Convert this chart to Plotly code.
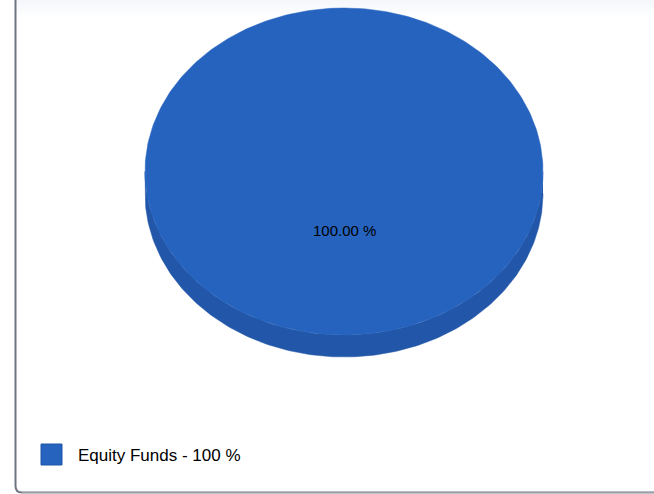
import numpy as np
import plotly.graph_objects as go

# ---- data ----
categories = ["Equity Funds"]
values = [100.0]
colors_top = ["#2563BF"]
colors_side = ["#2256A8"]

W, H = 654, 494
cx, cy, rx, ry, depth = 344, 171.5, 199, 163.5, 22

total = sum(values)
fig = go.Figure()

start = -np.pi / 2  # 12 o'clock, clockwise in screen coords (y down)
slices = []
for cat, v, ct, cs in zip(categories, values, colors_top, colors_side):
    sweep = 2 * np.pi * v / total
    slices.append((cat, v, start, start + sweep, ct, cs))
    start += sweep

# side (extrusion), visible on the lower half only
for cat, v, a0, a1, ct, cs in slices:
    s0, s1 = (0.0, np.pi) if v >= total else (max(a0, 0), min(a1, np.pi))
    if s1 > s0:
        t = np.linspace(s0, s1, 200)
        xs = np.concatenate([cx + rx * np.cos(t), cx + rx * np.cos(t[::-1])])
        ys = np.concatenate([cy + ry * np.sin(t), cy + depth + ry * np.sin(t[::-1])])
        fig.add_trace(go.Scatter(x=xs, y=ys, fill="toself", fillcolor=cs, mode="lines",
                                 line=dict(color=cs, width=0.5), hoverinfo="skip", showlegend=False))

# top faces and labels
for cat, v, a0, a1, ct, cs in slices:
    t = np.linspace(a0, a1, 400)
    xs = cx + rx * np.cos(t)
    ys = cy + ry * np.sin(t)
    if v < total:
        xs = np.concatenate([[cx], xs, [cx]])
        ys = np.concatenate([[cy], ys, [cy]])
    fig.add_trace(go.Scatter(x=xs, y=ys, fill="toself", fillcolor=ct, mode="lines",
                             line=dict(color=ct, width=0.5), hoverinfo="skip", showlegend=False))
    mid = (a0 + a1) / 2
    fig.add_annotation(x=cx + 0.36 * rx * np.cos(mid), y=cy + 0.36 * ry * np.sin(mid),
                       text=f"{v / total * 100:.2f} %", showarrow=False,
                       font=dict(family="Liberation Sans", size=15, color="#000000"))

# legend
for i, (cat, v, ct) in enumerate(zip(categories, values, colors_top)):
    y0 = 444 + i * 26
    fig.add_shape(type="rect", xref="x", yref="y", x0=41, x1=62, y0=y0, y1=y0 + 21,
                  fillcolor=ct, line=dict(color="#1E56A8", width=1))
    fig.add_annotation(x=76, y=y0 + 11.5, xanchor="left", yanchor="middle",
                       text=f"{cat} - {v:g} %", showarrow=False,
                       font=dict(family="Liberation Sans", size=17, color="#000000"))

# faint top gradient
for k in range(8):
    fig.add_shape(type="rect", xref="x", yref="y", x0=16, x1=W, y0=k * 2, y1=k * 2 + 2,
                  fillcolor="#EEF1F8", opacity=0.55 * (1 - k / 8), line_width=0, layer="below")

# border (left + bottom, rounded corner)
fig.add_shape(type="path", xref="x", yref="y",
              path="M 15.5 0 L 15.5 486 Q 15.5 492.5 22 492.5 L 654 492.5",
              line=dict(color="#6E7480", width=2))
fig.add_shape(type="line", xref="x", yref="y", x0=22, x1=W, y0=493, y1=493,
              line=dict(color="#C8CBD0", width=1))

fig.update_layout(
    width=W, height=H, margin=dict(l=0, r=0, t=0, b=0),
    paper_bgcolor="white", plot_bgcolor="white",
    xaxis=dict(range=[0, W], visible=False, fixedrange=True),
    yaxis=dict(range=[H, 0], visible=False, fixedrange=True),
    showlegend=False,
)
fig.write_html("out.html")
